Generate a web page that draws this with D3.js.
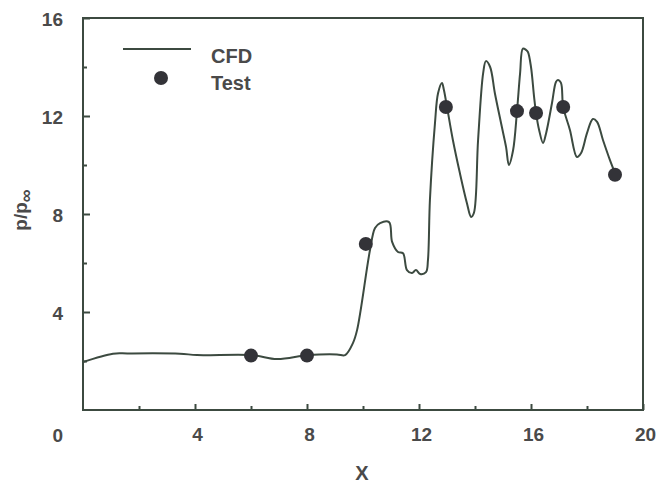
<!DOCTYPE html>
<html><head><meta charset="utf-8">
<script src="https://cdn.jsdelivr.net/npm/d3@7"></script>
<style>body{margin:0;background:#fff}svg{display:block}text{font-family:"Liberation Sans",Arial,sans-serif;font-weight:bold;fill:#4a4a4a}</style>
</head><body><svg id="c" width="667" height="483"></svg>
<script>
// CFD curve
const cfdX = [0,1.07,1.6,3.46,4.07,6.04,6.93,8.04,9.07,9.36,9.64,9.79,10.25,10.43,10.61,10.93,11.04,11.25,11.43,11.57,11.75,11.89,12.04,12.25,12.32,12.39,12.57,12.68,12.82,12.89,13.0,13.21,13.46,13.71,13.86,13.96,14.11,14.29,14.39,14.54,14.71,14.96,15.11,15.21,15.36,15.5,15.61,15.71,15.82,15.89,16.0,16.11,16.18,16.29,16.43,16.54,16.75,16.89,16.96,17.07,17.15,17.39,17.64,17.79,18.0,18.21,18.36,18.57,18.82,19.0];
const cfdY = [1.96,2.3,2.31,2.3,2.24,2.24,2.08,2.24,2.27,2.24,2.73,3.27,6.53,7.43,7.63,7.67,6.86,6.45,6.4,5.71,5.59,5.71,5.55,5.63,6.12,8.57,11.7,12.93,13.35,13.06,12.37,11.02,9.67,8.45,7.88,8.04,11.02,13.74,14.24,14.0,12.93,11.55,10.73,10.0,10.6,12.2,13.74,14.75,14.7,14.61,14.0,12.78,12.12,11.43,10.9,11.3,12.53,13.39,13.47,13.35,12.37,11.43,10.33,10.49,11.3,11.88,11.76,11.02,10.2,9.67];
// Test data
const testX = [6.0,8.0,10.1,12.96,15.5,16.18,17.15,19.0];
const testY = [2.22,2.22,6.78,12.37,12.2,12.12,12.37,9.6];
const xTicks = [4,8,12,16,20];
const yTicks = [4,8,12,16];
const xMinor = [2,6,10,14,18];
const yMinor = [2,6,10,14];

const svg = d3.select("#c");
const L=83,R=643,T=18,B=410;
const x = d3.scaleLinear().domain([0,20]).range([L,R]);
const y = d3.scaleLinear().domain([0,16]).range([B,T]);
const ink = "#3c4a40";
const FS = 19;

svg.append("rect").attr("x",L).attr("y",T).attr("width",R-L).attr("height",B-T)
 .attr("fill","none").attr("stroke",ink).attr("stroke-width",2);

const xa = svg.append("g").attr("transform",`translate(0,${B})`)
 .call(d3.axisBottom(x).tickValues(xTicks).tickSize(-6).tickPadding(18).tickFormat(d3.format("d")));
const xm = svg.append("g").attr("transform",`translate(0,${B})`)
 .call(d3.axisBottom(x).tickValues(xMinor).tickSize(-4).tickFormat(""));
const ya = svg.append("g").attr("transform",`translate(${L},0)`)
 .call(d3.axisLeft(y).tickValues(yTicks).tickSize(-7).tickPadding(20).tickFormat(d3.format("d")));
const ym = svg.append("g").attr("transform",`translate(${L},0)`)
 .call(d3.axisLeft(y).tickValues(yMinor).tickSize(-4).tickFormat(""));
[xa,xm,ya,ym].forEach(a=>{
  a.select(".domain").remove();
  a.selectAll("line").attr("stroke",ink).attr("stroke-width",2);
  a.selectAll("text").attr("font-size",FS).attr("fill","#4a4a4a")
   .attr("font-family","Liberation Sans, Arial, sans-serif").attr("font-weight","bold");
});
ya.selectAll("text").attr("dy","0.4em");
xa.selectAll("text").attr("dy","0.71em").attr("dx",2);
svg.append("text").attr("x",63).attr("y",442).attr("text-anchor","end").attr("font-size",FS).text("0");

const pts = cfdX.map((d,i)=>[d,cfdY[i]]);
svg.append("path").datum(pts)
 .attr("d",d3.line().x(d=>x(d[0])).y(d=>y(d[1])).curve(d3.curveCatmullRom.alpha(0.5)))
 .attr("fill","none").attr("stroke",ink).attr("stroke-width",2).attr("stroke-linejoin","round");

svg.selectAll("circle.t").data(testX.map((d,i)=>[d,testY[i]])).enter().append("circle")
 .attr("class","t").attr("cx",d=>x(d[0])).attr("cy",d=>y(d[1])).attr("r",7).attr("fill","#333338");

svg.append("line").attr("x1",123).attr("x2",191).attr("y1",49).attr("y2",49).attr("stroke",ink).attr("stroke-width",2);
svg.append("text").attr("x",211).attr("y",63).attr("font-size",20).text("CFD");
svg.append("circle").attr("cx",161).attr("cy",78).attr("r",7).attr("fill","#333338");
svg.append("text").attr("x",211).attr("y",90).attr("font-size",20).text("Test");

svg.append("text").attr("x",362).attr("y",480).attr("text-anchor","middle").attr("font-size",20).text("X");
const yt = svg.append("text").attr("transform","translate(27,210) rotate(-90)").attr("text-anchor","middle").attr("font-size",19);
yt.append("tspan").text("p/p");
yt.append("tspan").attr("dy",5).attr("font-size",18).text("∞");
</script></body></html>
